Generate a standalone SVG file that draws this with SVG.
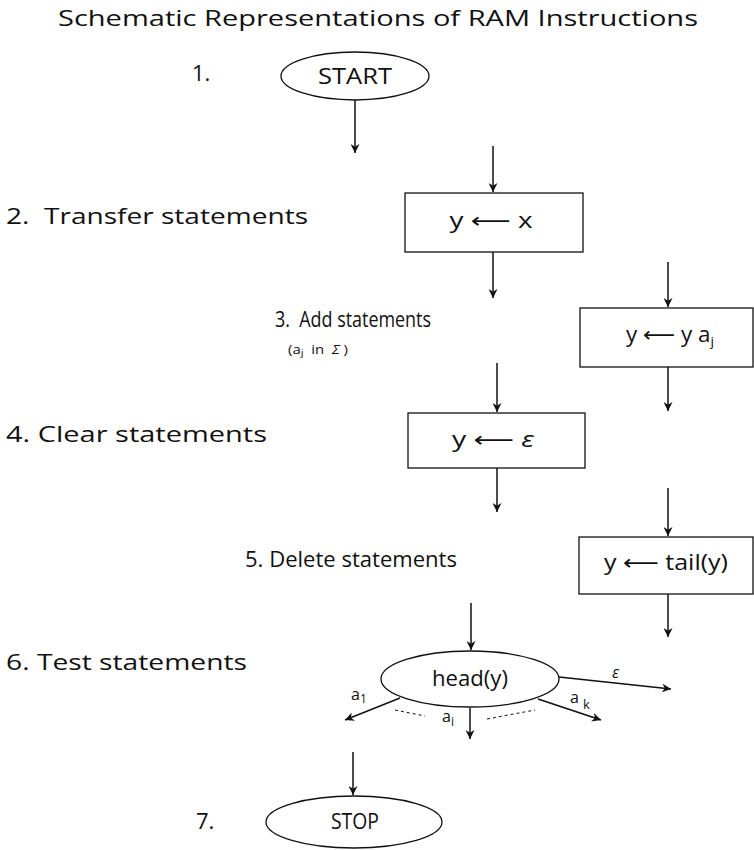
<svg xmlns="http://www.w3.org/2000/svg" width="754" height="850" viewBox="0 0 754 850">
  <style>
    text { font-family: "Open Sans", "Noto Sans", "DejaVu Sans", sans-serif; fill: #111; }
    .title { font-size: 22px; }
    .label { font-size: 22px; }
    .node-text { font-size: 21px; text-anchor: middle; }
    .arrow-glyph { font-family: "DejaVu Sans", sans-serif; }
    .shape { fill: #fff; stroke: #111; stroke-width: 1.3; }
    .edge { stroke: #111; stroke-width: 1.5; fill: none; marker-end: url(#arrow); }
    .dash { stroke: #111; stroke-width: 1; stroke-dasharray: 3 3; fill: none; }
    .edge-label { font-size: 16px; }
  </style>
  <defs>
    <marker id="arrow" viewBox="0 0 10 10" refX="10" refY="5" markerWidth="9" markerHeight="9" markerUnits="userSpaceOnUse" orient="auto">
      <path d="M0,0 L10,5 L0,10 L3,5 z" fill="#111"/>
    </marker>
  </defs>

  <text class="title" x="58" y="26" textLength="640" lengthAdjust="spacingAndGlyphs">Schematic Representations of RAM Instructions</text>

  <!-- section labels -->
  <g id="labels">
    <text class="label" x="192" y="81">1.</text>
    <text class="label" x="6" y="224" textLength="302" lengthAdjust="spacingAndGlyphs" xml:space="preserve">2.  Transfer statements</text>
    <text class="label" x="275" y="327" font-size="18" textLength="156" lengthAdjust="spacingAndGlyphs" xml:space="preserve">3.  Add statements</text>
    <text x="288" y="354" font-size="12" textLength="60" lengthAdjust="spacingAndGlyphs" xml:space="preserve">(a<tspan font-size="9" dy="2">j</tspan><tspan dy="-2">  in  </tspan><tspan font-style="italic">Σ</tspan> )</text>
    <text class="label" x="6" y="442" textLength="261" lengthAdjust="spacingAndGlyphs">4. Clear statements</text>
    <text class="label" x="245" y="567" font-size="21" textLength="212" lengthAdjust="spacingAndGlyphs">5. Delete statements</text>
    <text class="label" x="6" y="670" textLength="241" lengthAdjust="spacingAndGlyphs">6. Test statements</text>
    <text class="label" x="196" y="829">7.</text>
  </g>

  <g id="start">
    <ellipse class="shape" cx="355" cy="76" rx="74" ry="24"/>
    <text class="node-text" x="355" y="84" font-size="20" textLength="74" lengthAdjust="spacingAndGlyphs">START</text>
  </g>

  <g id="transfer">
    <rect class="shape" x="405" y="193" width="178" height="59"/>
    <text class="node-text" x="491" y="228" textLength="83" lengthAdjust="spacingAndGlyphs">y <tspan class="arrow-glyph">⟵</tspan> x</text>
  </g>

  <g id="add">
    <rect class="shape" x="580" y="308" width="173" height="59"/>
    <text class="node-text" x="670" y="342" textLength="88" lengthAdjust="spacingAndGlyphs">y <tspan class="arrow-glyph">⟵</tspan> y a<tspan font-size="13" dy="4">j</tspan></text>
  </g>

  <g id="clear">
    <rect class="shape" x="408" y="413" width="177" height="55"/>
    <text class="node-text" x="493" y="447" textLength="82" lengthAdjust="spacingAndGlyphs">y <tspan class="arrow-glyph">⟵</tspan> <tspan font-style="italic">ε</tspan></text>
  </g>

  <g id="delete">
    <rect class="shape" x="579" y="537" width="174" height="57"/>
    <text class="node-text" x="666" y="570" font-size="15" textLength="124" lengthAdjust="spacingAndGlyphs">y <tspan class="arrow-glyph">⟵</tspan> tail(y)</text>
  </g>

  <g id="test">
    <ellipse class="shape" cx="470" cy="679" rx="89" ry="28"/>
    <text class="node-text" x="470" y="686" font-size="18" textLength="76" lengthAdjust="spacingAndGlyphs">head(y)</text>
  </g>

  <g id="stop">
    <ellipse class="shape" cx="354" cy="822" rx="88" ry="26"/>
    <text class="node-text" x="355" y="829" font-size="20" textLength="48" lengthAdjust="spacingAndGlyphs">STOP</text>
  </g>

  <g id="connectors">
    <line class="edge" x1="355" y1="100" x2="355" y2="153"/>
    <line class="edge" x1="493" y1="146" x2="493" y2="192"/>
    <line class="edge" x1="493" y1="252" x2="493" y2="298"/>
    <line class="edge" x1="668" y1="262" x2="668" y2="307"/>
    <line class="edge" x1="668" y1="367" x2="668" y2="411"/>
    <line class="edge" x1="497" y1="363" x2="497" y2="412"/>
    <line class="edge" x1="497" y1="468" x2="497" y2="512"/>
    <line class="edge" x1="668" y1="488" x2="668" y2="536"/>
    <line class="edge" x1="668" y1="594" x2="668" y2="637"/>
    <line class="edge" x1="471" y1="603" x2="471" y2="650"/>
    <line class="edge" x1="353" y1="752" x2="353" y2="795"/>
    <!-- branches out of the test -->
    <line class="edge" x1="559" y1="677" x2="671" y2="689"/>
    <line class="edge" x1="400" y1="698" x2="345" y2="720"/>
    <line class="edge" x1="470" y1="708" x2="470" y2="739"/>
    <line class="edge" x1="538" y1="699" x2="601" y2="720"/>
    <path class="dash" d="M395,710 L425,716"/>
    <path class="dash" d="M487,719 L535,710"/>
  </g>

  <g id="branch-labels">
    <text class="edge-label" x="612" y="678" font-style="italic">ε</text>
    <text class="edge-label" x="351" y="700">a<tspan font-size="12" dy="3">1</tspan></text>
    <text class="edge-label" x="442" y="722">a<tspan font-size="12" dy="4">i</tspan></text>
    <text class="edge-label" x="570" y="703" xml:space="preserve">a <tspan font-size="13" dy="6">k</tspan></text>
  </g>
</svg>
